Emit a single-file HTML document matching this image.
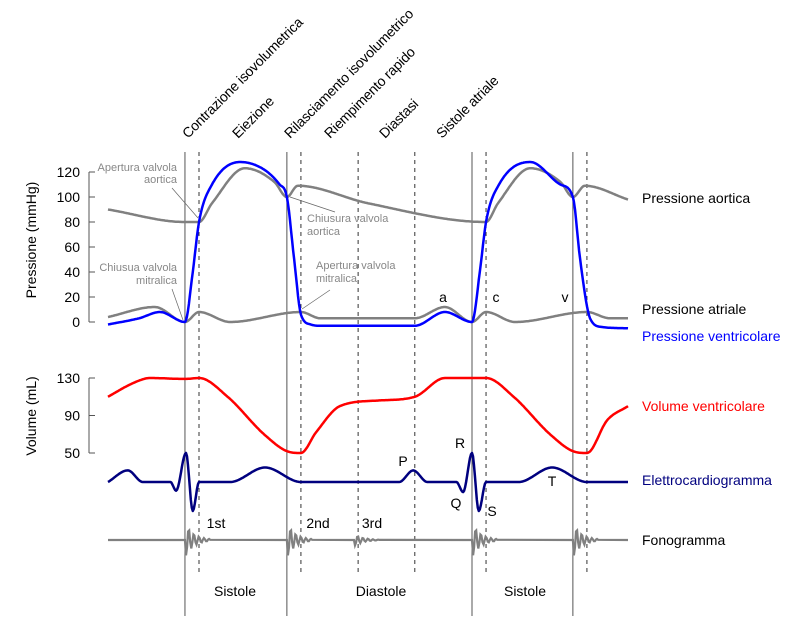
<!DOCTYPE html>
<html><head><meta charset="utf-8"><style>
html,body{margin:0;padding:0;background:#fff;}
svg{display:block;font-family:"Liberation Sans",sans-serif;}
</style></head><body>
<svg id="c" width="800" height="639" viewBox="0 0 800 639"></svg>
<script>
// ---- data (time in ms over one displayed span 0..1000) ----
const aortT=[0,148,175,200,263,320,344,365,500,727,750,812,870,894,917,1000];
const aortV=[90,80,80,95,123,112,100,109,95,80,95,123,112,100,109,98];
const ventT=[0,60,100,148,163,175,200,254,300,330,344,358,371,390,408,590,648,700,715,727,752,812,870,894,908,927,950,1000];
const ventV=[-2,3,8,0,40,80,110,128,122,110,100,50,6,-2,-3,-3,8,0,40,80,110,128,110,100,50,3,-4,-5];
const atrT=[0,90,148,175,235,371,408,590,648,700,727,783,921,965,1000];
const atrV=[4,12,0,8,0,8,3,3,12,0,8,0,8,3,3];
const volT=[0,50,81,148,175,230,300,344,371,400,446,520,590,648,727,780,850,894,921,960,1000];
const volV=[110,125,130,129,130,110,70,52,50,72,100,106,110,130,130,110,70,52,50,85,100];
const ecgT=[0,38,67,120,131,150,163,175,235,302,371,560,587,614,670,683,700,713,727,790,854,921,1000];
const ecgV=[0,0.4,0,0,-0.3,1.0,-1.0,0,0,0.5,0,0,0.4,0,0,-0.35,1.0,-1.0,0,0,0.5,0,0];
const soundT=[148,344,473,700,894];
const soundAmp=[1,1,0.35,1,1];
const pTicks=[0,20,40,60,80,100,120];
const vTicks=[50,90,130];
const solidT=[148,344,700,894];
const dashT=[175,371,481,590,727,921];

const svg=document.getElementById('c');
const NS='http://www.w3.org/2000/svg';
const X=t=>108+t*0.52;
const YP=v=>322-v*1.25;
const YV=v=>453-(v-50)*0.9375;
const YE=v=>482-v*29;
function el(tag,attrs,parent){const e=document.createElementNS(NS,tag);for(const k in attrs)e.setAttribute(k,attrs[k]);(parent||svg).appendChild(e);return e;}
function monotone(T,V){
  const n=T.length,dk=[],m=new Array(n);
  for(let i=0;i<n-1;i++)dk.push((V[i+1]-V[i])/(T[i+1]-T[i]));
  m[0]=dk[0];m[n-1]=dk[n-2];
  for(let i=1;i<n-1;i++){m[i]=(dk[i-1]*dk[i]<=0)?0:(dk[i-1]+dk[i])/2;}
  for(let i=0;i<n-1;i++){
    if(dk[i]===0){m[i]=0;m[i+1]=0;continue;}
    const a=m[i]/dk[i],b=m[i+1]/dk[i],s=a*a+b*b;
    if(s>9){const tau=3/Math.sqrt(s);m[i]=tau*a*dk[i];m[i+1]=tau*b*dk[i];}
  }
  const pts=[];
  for(let i=0;i<n-1;i++){
    const h=T[i+1]-T[i],steps=Math.max(4,Math.ceil(h/2));
    for(let s=0;s<steps;s++){
      const u=s/steps,u2=u*u,u3=u2*u;
      const v=(2*u3-3*u2+1)*V[i]+(u3-2*u2+u)*h*m[i]+(-2*u3+3*u2)*V[i+1]+(u3-u2)*h*m[i+1];
      pts.push([T[i]+u*h,v]);
    }
  }
  pts.push([T[n-1],V[n-1]]);
  return pts;
}
function txt(x,y,s,attrs){const t=el('text',Object.assign({x:x,y:y,'font-size':14,fill:'#000'},attrs||{}));t.textContent=s;return t;}

solidT.forEach(t=>{
  const l=el('line',{x1:X(t),x2:X(t),y1:152,y2:616,stroke:'#555','stroke-width':1});
  
  
});
dashT.forEach(t=>{
  const l=el('line',{x1:X(t),x2:X(t),y1:152,y2:576,stroke:'#333','stroke-width':1,'stroke-dasharray':'4,4'});
  
  
});

const phases=[[188,'Contrazione isovolumetrica'],[238,'Eiezione'],[290,'Rilasciamento isovolumetrico'],[330,'Riempimento rapido'],[385,'Diastasi'],[442,'Sistole atriale']];
phases.forEach(p=>{
  const t=txt(p[0],139,p[1],{transform:'rotate(-45 '+p[0]+' 139)','letter-spacing':'-0.2'});
  
  
});

el('line',{x1:89,x2:89,y1:YP(0),y2:YP(120),stroke:'#555'});
pTicks.forEach(v=>{
  el('line',{x1:89,x2:95,y1:YP(v),y2:YP(v),stroke:'#555'});
  const t=txt(80,YP(v)+5,String(v),{'text-anchor':'end'});
  
  
});
const pt=txt(0,0,'Pressione (mmHg)',{'text-anchor':'middle',transform:'translate(36,240) rotate(-90)'});

el('line',{x1:89,x2:89,y1:YV(50),y2:YV(130),stroke:'#555'});
vTicks.forEach(v=>{
  el('line',{x1:89,x2:95,y1:YV(v),y2:YV(v),stroke:'#555'});
  const t=txt(80,YV(v)+5,String(v),{'text-anchor':'end'});
  
  
});
const vt=txt(0,0,'Volume (mL)',{'text-anchor':'middle',transform:'translate(36,416) rotate(-90)'});


function series(T,V,Y,color,name,w){
  const pts=monotone(T,V);
  const d='M'+pts.map(p=>X(p[0]).toFixed(1)+','+Y(p[1]).toFixed(1)).join(' L');
  const p=el('path',{d:d,fill:'none',stroke:color,'stroke-width':w||2.5,'stroke-linejoin':'round'});
  
  
}
series(atrT,atrV,YP,'#808080','atrial-pressure-line');
series(aortT,aortV,YP,'#808080','aortic-pressure-line');
series(ventT,ventV,YP,'#0000ff','ventricular-pressure-line');
series(volT,volV,YV,'#ff0000','ventricular-volume-line');
series(ecgT,ecgV,YE,'#00007f','ecg-line');

let d='M'+X(0)+',540';
soundT.forEach((t,i)=>{
  const a=soundAmp[i];
  d+=' L'+X(t)+',540';
  for(let k=1;k<=24;k++){
    const x=X(t)+k*1.05;
    const y=540+Math.sin(k*1.3)*18*a*Math.exp(-k/8);
    d+=' L'+x.toFixed(1)+','+y.toFixed(1);
  }
});
d+=' L'+X(1000)+',540';
const ph=el('path',{d:d,fill:'none',stroke:'#808080','stroke-width':2.2});



const g='#888';
[[172,188,198,218],[290,197,335,212],[172,289,183,320],[302,309,330,290]].forEach(a=>{
  const l=el('line',{x1:a[0],y1:a[1],x2:a[2],y2:a[3],stroke:'#666','stroke-width':0.7});
  
});
[[177,171,'Apertura valvola','end'],[177,183,'aortica','end'],[307,222,'Chiusura valvola','start'],[307,235,'aortica','start'],
 [177,271,'Chiusua valvola','end'],[177,284,'mitralica','end'],[316,269,'Apertura valvola','start'],[316,282,'mitralica','start']].forEach(a=>{
  const t=txt(a[0],a[1],a[2],{'font-size':11,fill:g,'text-anchor':a[3]});
  
  
});

[[443,302,'a'],[496,302,'c'],[565,302,'v'],[403,466,'P'],[460,448,'R'],[456,508,'Q'],[492,516,'S'],[552,486,'T'],[216,528,'1st'],[318,528,'2nd'],[372,528,'3rd']].forEach(a=>{
  const t=txt(a[0],a[1],a[2],{'text-anchor':'middle'});
  
  
});

[[203,'Pressione aortica','#000'],[314,'Pressione atriale','#000'],[341,'Pressione ventricolare','#0000ff'],[411,'Volume ventricolare','#ff0000'],[485,'Elettrocardiogramma','#00007f'],[545,'Fonogramma','#000']].forEach(a=>{
  const t=txt(642,a[0],a[1],{fill:a[2]});
  
  
});
[[235,'Sistole'],[381,'Diastole'],[525,'Sistole']].forEach(a=>{
  const t=txt(a[0],596,a[1],{'text-anchor':'middle'});
  
  
});
</script>
</body></html>
